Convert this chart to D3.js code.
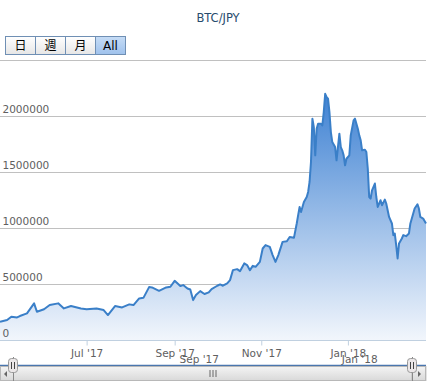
<!DOCTYPE html>
<html>
<head>
<meta charset="utf-8">
<script src="https://cdn.jsdelivr.net/npm/d3@7"></script>
<style>
  body { margin: 0; background: #fff; }
  svg { display: block; font-family: "DejaVu Sans", Verdana, sans-serif; }
</style>
</head>
<body>
<svg id="chart"></svg>
<script>
// BTC/JPY close
const dates = [
  "2017-05-01","2017-05-06","2017-05-09","2017-05-13","2017-05-15","2017-05-20","2017-05-25","2017-05-27",
  "2017-06-01","2017-06-05","2017-06-11","2017-06-15","2017-06-20","2017-06-27",
  "2017-07-01","2017-07-08","2017-07-13","2017-07-16","2017-07-21","2017-07-26","2017-07-31",
  "2017-08-03","2017-08-07","2017-08-10","2017-08-14","2017-08-16","2017-08-21","2017-08-26","2017-08-29",
  "2017-09-01","2017-09-05","2017-09-07","2017-09-10","2017-09-12","2017-09-14","2017-09-16",
  "2017-09-19","2017-09-22","2017-09-25","2017-09-27","2017-10-01","2017-10-03","2017-10-05","2017-10-08",
  "2017-10-10","2017-10-12","2017-10-15","2017-10-17","2017-10-20","2017-10-22","2017-10-24","2017-10-26",
  "2017-10-28","2017-10-31","2017-11-02","2017-11-04","2017-11-07","2017-11-09","2017-11-11","2017-11-13",
  "2017-11-16","2017-11-19","2017-11-21","2017-11-24","2017-11-26","2017-11-27","2017-11-28","2017-11-29",
  "2017-12-01","2017-12-03","2017-12-04","2017-12-05","2017-12-06","2017-12-07","2017-12-08","2017-12-09",
  "2017-12-10","2017-12-11","2017-12-13","2017-12-14","2017-12-15","2017-12-16","2017-12-17","2017-12-18",
  "2017-12-19","2017-12-20","2017-12-21","2017-12-23","2017-12-24","2017-12-26","2017-12-27","2017-12-28",
  "2017-12-29","2017-12-30","2017-12-31","2018-01-02","2018-01-03","2018-01-05","2018-01-06","2018-01-08",
  "2018-01-09","2018-01-10","2018-01-11","2018-01-13","2018-01-14","2018-01-15","2018-01-16","2018-01-17",
  "2018-01-18","2018-01-20","2018-01-21","2018-01-22","2018-01-24","2018-01-25","2018-01-27","2018-01-28",
  "2018-01-30","2018-02-01","2018-02-02","2018-02-03","2018-02-04","2018-02-05","2018-02-06","2018-02-08",
  "2018-02-09","2018-02-11","2018-02-13","2018-02-14","2018-02-16","2018-02-17","2018-02-19","2018-02-20",
  "2018-02-21","2018-02-23","2018-02-25"
];
const prices = [
  167000,182000,212000,206000,218000,242000,331000,256000,
  278000,316000,331000,286000,307000,286000,
  278000,286000,271000,227000,307000,295000,322000,
  316000,375000,380000,476000,473000,443000,473000,479000,
  532000,485000,494000,464000,455000,360000,405000,
  440000,414000,429000,458000,488000,500000,488000,509000,
  538000,627000,636000,618000,687000,672000,627000,665000,
  657000,701000,820000,850000,835000,761000,701000,761000,
  879000,885000,923000,915000,1045000,1120000,1190000,1146000,
  1235000,1279000,1324000,1413000,1591000,1977000,1902000,1650000,
  1888000,1932000,1932000,1917000,2036000,2199000,2169000,2155000,
  2036000,1858000,1769000,1724000,1606000,1843000,1724000,1695000,
  1650000,1561000,1620000,1650000,1828000,1962000,1977000,1888000,
  1828000,1784000,1695000,1701000,1680000,1532000,1279000,1265000,
  1339000,1399000,1279000,1190000,1250000,1206000,1256000,1221000,
  1101000,1043000,939000,954000,850000,731000,865000,909000,
  939000,930000,954000,1043000,1132000,1176000,1214000,1176000,
  1101000,1087000,1043000
];
const yTicks = [0, 500000, 1000000, 1500000, 2000000, 2500000];
const xTicks = ["2017-07-01", "2017-09-01", "2017-11-01", "2018-01-01"];
const navTicks = ["2017-09-01", "2018-01-01"];
const buttons = ["日", "週", "月", "All"];
const title = "BTC/JPY";

const W = 437, H = 385;
const plotLeft = 0, plotRight = 426, plotTop = 60, plotBottom = 340.5;
const parse = d3.timeParse("%Y-%m-%d");
const data = dates.map((d, i) => ({date: parse(d), close: prices[i]}));

const svg = d3.select("#chart").attr("width", W).attr("height", H);
const defs = svg.append("defs");

const x = d3.scaleTime()
  .domain(d3.extent(data, d => d.date))
  .range([plotLeft, plotRight]);
const y = d3.scaleLinear()
  .domain([0, 2500000])
  .range([plotBottom, plotTop]);

// title
svg.append("text")
  .attr("x", 218).attr("y", 22)
  .attr("text-anchor", "middle")
  .attr("font-size", 11.5)
  .attr("fill", "#274b6d")
  .text(title);

// range selector buttons
const btnG = svg.append("g").attr("transform", "translate(5.5,36.5)");
const btnGrad = defs.append("linearGradient").attr("id", "btn").attr("x1", 0).attr("y1", 0).attr("x2", 0).attr("y2", 1);
btnGrad.append("stop").attr("offset", "0%").attr("stop-color", "#ffffff");
btnGrad.append("stop").attr("offset", "100%").attr("stop-color", "#e6e6e6");
const selGrad = defs.append("linearGradient").attr("id", "btnSel").attr("x1", 0).attr("y1", 0).attr("x2", 0).attr("y2", 1);
selGrad.append("stop").attr("offset", "0%").attr("stop-color", "#c6dcf6");
selGrad.append("stop").attr("offset", "100%").attr("stop-color", "#9fc2ec");
btnG.selectAll("rect")
  .data(buttons)
  .join("rect")
  .attr("x", (d, i) => i * 30)
  .attr("y", 0)
  .attr("width", 30)
  .attr("height", 18)
  .attr("fill", (d, i) => i == buttons.length - 1 ? "url(#btnSel)" : "url(#btn)")
  .attr("stroke", "#6f8fb4")
  .attr("stroke-width", 1);
btnG.selectAll("text")
  .data(buttons)
  .join("text")
  .attr("x", (d, i) => i * 30 + 15)
  .attr("y", 13.5)
  .attr("text-anchor", "middle")
  .attr("font-size", 12)
  .attr("font-family", (d) => d == "All" ? "DejaVu Sans, sans-serif" : "Noto Sans CJK JP, sans-serif")
  .attr("fill", "#000")
  .text(d => d);

// grid lines
svg.append("g")
  .selectAll("line")
  .data(yTicks.filter(d => d > 0))
  .join("line")
  .attr("x1", plotLeft).attr("x2", plotRight)
  .attr("y1", d => Math.round(y(d)) + 0.5)
  .attr("y2", d => Math.round(y(d)) + 0.5)
  .attr("stroke", "#c0c0c0");

// area gradient
const areaGrad = defs.append("linearGradient")
  .attr("id", "areaFill")
  .attr("gradientUnits", "userSpaceOnUse")
  .attr("x1", 0).attr("x2", 0)
  .attr("y1", y(d3.max(prices))).attr("y2", plotBottom);
areaGrad.append("stop").attr("offset", "0%").attr("stop-color", "#3f82d3");
areaGrad.append("stop").attr("offset", "100%").attr("stop-color", "#f2f6fc");

const area = d3.area()
  .x(d => x(d.date))
  .y0(y(0))
  .y1(d => y(d.close));
const line = d3.line()
  .x(d => x(d.date))
  .y(d => y(d.close));

svg.append("path")
  .datum(data)
  .attr("fill", "url(#areaFill)")
  .attr("d", area);
svg.append("path")
  .datum(data)
  .attr("fill", "none")
  .attr("stroke", "#3a7fc8")
  .attr("stroke-width", 2)
  .attr("stroke-linejoin", "round")
  .attr("d", line);

// y labels inside the plot
svg.append("g")
  .selectAll("text")
  .data(yTicks.filter(d => d < 2500000))
  .join("text")
  .attr("x", 2.5)
  .attr("y", d => y(d) - 3.5)
  .attr("font-size", 10.5)
  .attr("fill", "#606060")
  .text(d => d);

// x axis
const fmt = d => d3.timeFormat("%b '%y")(d);
const xAxis = d3.axisBottom(x)
  .tickValues(xTicks.map(parse))
  .tickFormat(fmt)
  .tickSize(5)
  .tickPadding(4);
const xg = svg.append("g")
  .attr("transform", "translate(0," + plotBottom + ")")
  .call(xAxis);
xg.select(".domain").attr("stroke", "#c0d0e0").attr("d", "M" + plotLeft + ",0H" + plotRight);
xg.selectAll(".tick line").attr("stroke", "#c0d0e0");
xg.selectAll(".tick text")
  .attr("font-size", 10.5)
  .attr("font-family", "DejaVu Sans, sans-serif")
  .attr("fill", "#606060");

// navigator
const navLeft = 13, navRight = 412;
const xNav = d3.scaleTime()
  .domain(x.domain())
  .range([navLeft, navRight]);
svg.append("g")
  .selectAll("text")
  .data(navTicks.map(parse))
  .join("text")
  .attr("x", d => xNav(d) + 3)
  .attr("y", 362.5)
  .attr("font-size", 10.5)
  .attr("fill", "#606060")
  .text(fmt);
svg.append("line")
  .attr("x1", 0).attr("x2", plotRight)
  .attr("y1", 365.5).attr("y2", 365.5)
  .attr("stroke", "#4a76ae")
  .attr("stroke-width", 1.5);

// scrollbar
const sbGrad = defs.append("linearGradient").attr("id", "sb").attr("x1", 0).attr("y1", 0).attr("x2", 0).attr("y2", 1);
sbGrad.append("stop").attr("offset", "0%").attr("stop-color", "#f4f4f4");
sbGrad.append("stop").attr("offset", "100%").attr("stop-color", "#d9d9d9");
const sb = svg.append("g");
sb.append("rect")
  .attr("x", 0.5).attr("y", 366.5).attr("width", plotRight - 0.5).attr("height", 14)
  .attr("fill", "#eeeeee").attr("stroke", "#c8c8c8");
sb.append("rect")
  .attr("x", navLeft).attr("y", 366.5).attr("width", navRight - navLeft).attr("height", 14)
  .attr("fill", "url(#sb)").attr("stroke", "#b8b8b8");
sb.append("rect")
  .attr("x", 0.5).attr("y", 366.5).attr("width", 13).attr("height", 14)
  .attr("fill", "url(#sb)").attr("stroke", "#b8b8b8");
sb.append("rect")
  .attr("x", plotRight - 13.5).attr("y", 366.5).attr("width", 13).attr("height", 14)
  .attr("fill", "url(#sb)").attr("stroke", "#b8b8b8");
sb.append("path")
  .attr("d", "M4,374L7,371L7,377Z")
  .attr("fill", "#666");
sb.append("path")
  .attr("d", "M" + (plotRight - 5) + ",374L" + (plotRight - 8) + ",371L" + (plotRight - 8) + ",377Z")
  .attr("fill", "#666");
const gripX = (navLeft + navRight) / 2;
[-3, 0, 3].forEach(dx => {
  sb.append("line")
    .attr("x1", gripX + dx + 0.5).attr("x2", gripX + dx + 0.5)
    .attr("y1", 370).attr("y2", 377)
    .attr("stroke", "#666");
});

// navigator handles
[navLeft, navRight].forEach(hx => {
  const hg = svg.append("g").attr("transform", "translate(" + hx + ",0)");
  hg.append("line")
    .attr("x1", 0.5).attr("x2", 0.5).attr("y1", 357).attr("y2", 381)
    .attr("stroke", "#888");
  hg.append("rect")
    .attr("x", -4.5).attr("y", 358.5).attr("width", 9).attr("height", 14)
    .attr("rx", 3)
    .attr("fill", "#ebe7e8").attr("stroke", "#999");
  hg.append("line")
    .attr("x1", -1.5).attr("x2", -1.5).attr("y1", 362).attr("y2", 369)
    .attr("stroke", "#444");
  hg.append("line")
    .attr("x1", 1.5).attr("x2", 1.5).attr("y1", 362).attr("y2", 369)
    .attr("stroke", "#444");
});
</script>
</body>
</html>
